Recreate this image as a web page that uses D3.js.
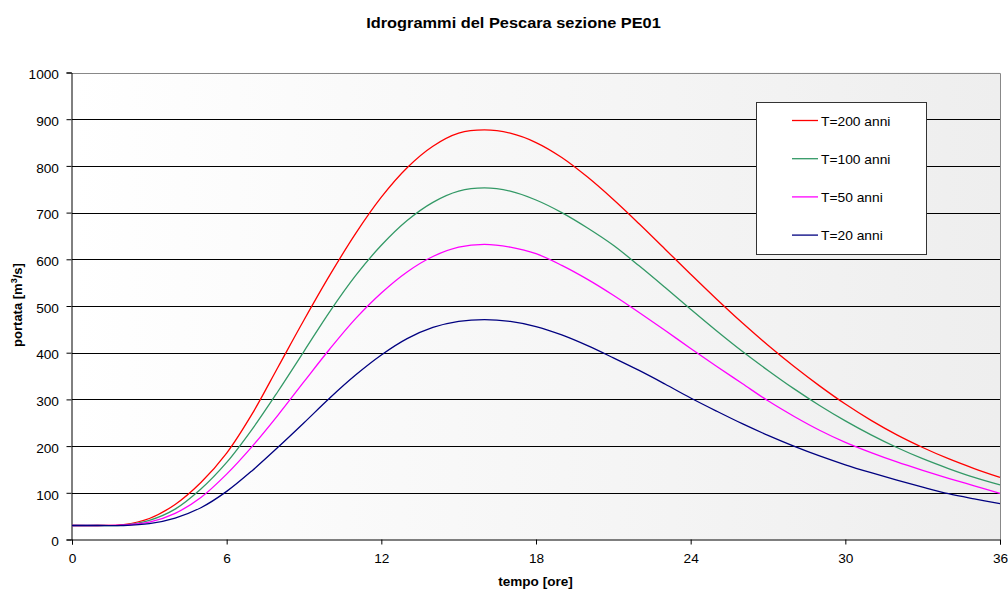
<!DOCTYPE html>
<html><head><meta charset="utf-8">
<script src="https://cdn.jsdelivr.net/npm/d3@7"></script>
<style>body{margin:0;background:#fff;font-family:"Liberation Sans",Arial,sans-serif;}</style>
</head><body>
<svg id="c" width="1008" height="590"></svg>
<script>
const hours = d3.range(0, 37);
const seriesNames = ["T=200 anni", "T=100 anni", "T=50 anni", "T=20 anni"];
const seriesColors = ["#ff0000", "#339966", "#ff00ff", "#000080"];
const q200 = [30,30,32,45,75,122,185,270,370,470,566,655,733,796,842,870,877,870,850,818,776,728,676,622,568,515,464,416,371,329,290,255,224,197,173,152,133];
const q100 = [30,30,31,41,65,108,165,237,318,403,488,565,630,683,722,746,753,746,727,700,667,630,586,540,493,447,403,362,323,287,254,224,197,173,152,133,117];
const q50  = [30,30,31,37,56,90,140,200,267,338,408,473,528,573,606,626,632,626,612,587,557,523,486,448,409,371,334,297,264,234,208,186,166,148,131,115,99];
const q20  = [30,30,30,34,46,68,103,148,198,250,303,352,395,430,454,467,471,467,456,438,415,389,362,333,303,275,248,223,200,179,160,143,127,112,98,87,77];
const seriesValues = [q200, q100, q50, q20];
const xTicks = [0, 6, 12, 18, 24, 30, 36];
const yTicks = d3.range(0, 1001, 100);

const svg = d3.select("#c");
const L = 72, R = 1000, T = 72.5, B = 539.5;
const SX = 1.14; // horizontal text stretch seen in the reference
const x = d3.scaleLinear().domain([0, 36]).range([L, R]);
const y = d3.scaleLinear().domain([0, 1000]).range([B, T]);

const defs = svg.append("defs");
const g = defs.append("linearGradient").attr("id", "bg").attr("x1", "0").attr("x2", "1").attr("y1", "0").attr("y2", "0");
g.append("stop").attr("offset", "0").attr("stop-color", "#ffffff");
g.append("stop").attr("offset", "1").attr("stop-color", "#eeeeee");

svg.append("rect").attr("x", L).attr("y", T).attr("width", R - L).attr("height", B - T).attr("fill", "url(#bg)");

// gridlines
svg.append("g").selectAll("line").data(yTicks.filter(v => v > 0 && v < 1000)).join("line")
  .attr("x1", L).attr("x2", R).attr("y1", d => Math.round(y(d)) + 0.5).attr("y2", d => Math.round(y(d)) + 0.5)
  .attr("stroke", "#000").attr("stroke-width", 1);
// border top/right
svg.append("path").attr("d", `M${L},${Math.round(T)+0.5}H${R+0.5}V${B}`).attr("fill", "none").attr("stroke", "#888").attr("stroke-width", 1);

// axes
const yAxis = d3.axisLeft(y).tickValues(yTicks).tickFormat(d3.format("d")).tickSize(5).tickPadding(6);
const ya = svg.append("g").attr("transform", `translate(${L - 0.5},0)`).call(yAxis);
const xAxis = d3.axisBottom(x).tickValues(xTicks).tickFormat(d3.format("d")).tickSize(5).tickPadding(10);
const xa = svg.append("g").attr("transform", `translate(0,${B})`).call(xAxis);
[ya, xa].forEach(a => {
  a.selectAll("path,line").attr("stroke", "#000");
  a.selectAll("text").attr("font-family", "Liberation Sans, Arial, sans-serif").attr("font-size", 12).attr("fill", "#000")
    .attr("transform", `scale(${SX},1)`);
});
ya.selectAll("text").attr("dy", "0.52em");

// lines
const line = d3.line().x((d, i) => x(hours[i])).y(d => y(d)).curve(d3.curveCatmullRom.alpha(0.5));
seriesValues.forEach((vals, k) => {
  svg.append("path").attr("d", line(vals)).attr("fill", "none").attr("stroke", seriesColors[k]).attr("stroke-width", 1.3);
});

// title
svg.append("text").attr("transform", `translate(513.5,28) scale(1.17,1)`).attr("text-anchor", "middle")
  .attr("font-size", 14).attr("font-weight", "bold").text("Idrogrammi del Pescara sezione PE01");

// axis titles
svg.append("text").attr("transform", `translate(535.5,586) scale(1.13,1)`).attr("text-anchor", "middle")
  .attr("font-size", 12).attr("font-weight", "bold").text("tempo [ore]");
const yt = svg.append("text").attr("transform", "translate(22,305) rotate(-90)").attr("text-anchor", "middle")
  .attr("font-size", 13).attr("font-weight", "bold");
yt.append("tspan").text("portata [m");
yt.append("tspan").attr("font-size", 9).attr("dy", -5).text("3");
yt.append("tspan").attr("dy", 5).text("/s]");

// legend
const lg = svg.append("g");
lg.append("rect").attr("x", 756.5).attr("y", 102.5).attr("width", 170).attr("height", 152)
  .attr("fill", "#fff").attr("stroke", "#333").attr("stroke-width", 1);
seriesNames.forEach((n, k) => {
  const yy = 120.5 + k * 38.2;
  lg.append("line").attr("x1", 792).attr("x2", 818).attr("y1", yy).attr("y2", yy).attr("stroke", seriesColors[k]).attr("stroke-width", 1.3);
  lg.append("text").attr("transform", `translate(821,${yy + 5.2}) scale(1.15,1)`).attr("font-size", 12).text(n);
});
</script>
</body></html>
